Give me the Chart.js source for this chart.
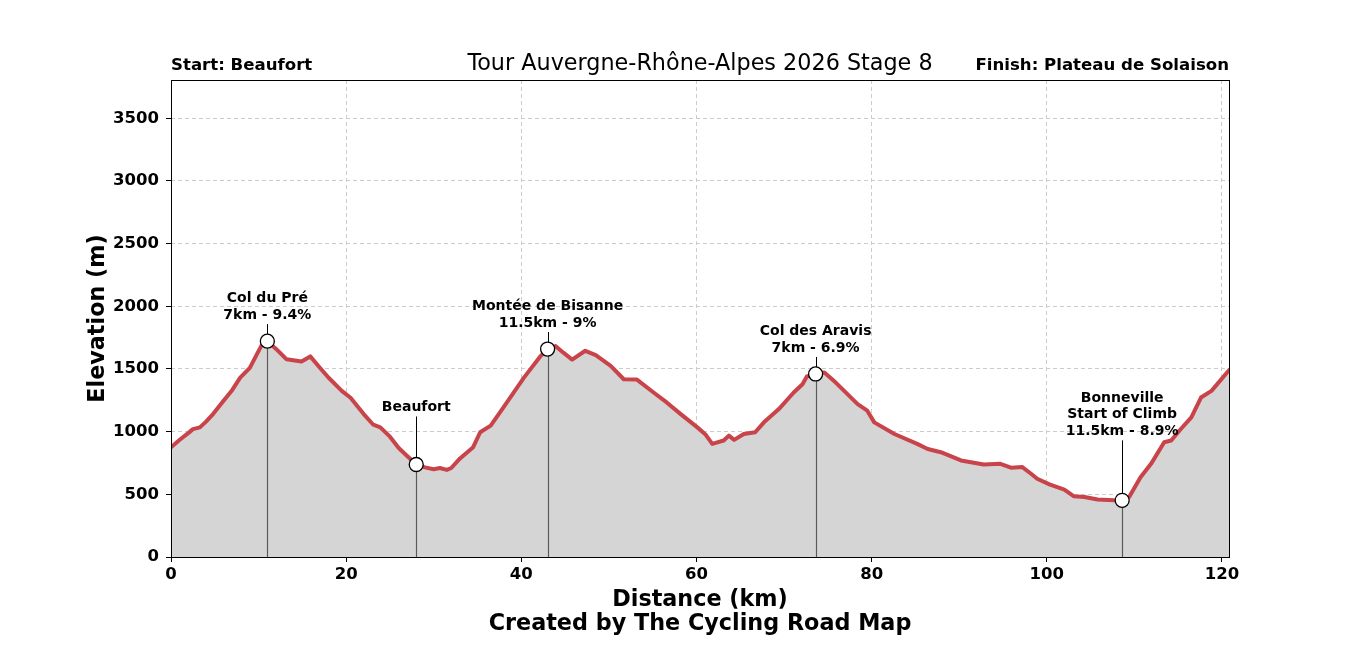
<!DOCTYPE html>
<html>
<head>
<meta charset="utf-8">
<script src="https://cdn.jsdelivr.net/npm/chart.js@4.4.1/dist/chart.umd.min.js"></script>
<style>
  html, body { margin: 0; padding: 0; background: #fff; }
  #wrap { width: 1366px; height: 655px; }
</style>
</head>
<body>
<div id="wrap"><canvas id="profile" width="1366" height="655"></canvas></div>
<script>
// profile (km, m)
const distKm = [0, 1, 2, 2.5, 3.3, 4, 4.8, 6, 7, 7.9, 9, 9.8, 10.4, 11, 12, 13.2, 14.9, 15.9, 17, 18,
  19.5, 20.5, 22, 23.1, 23.9, 25, 26, 26.9, 28, 29, 30, 30.7, 31.5, 32, 33, 34.5, 35.3, 36.5, 38, 40.3,
  42.2, 43, 43.9, 44.8, 45.8, 47.3, 48.5, 50.2, 51.7, 53.2, 55.1, 56.6, 58.2, 60.1, 61, 61.8, 63.1, 63.7, 64.3, 65.4,
  66.7, 67.7, 69.4, 71.1, 72.1, 72.6, 73.6, 74.6, 75.9, 78.4, 79.5, 80.3, 82.6, 85.2, 86.4, 87.9, 90.2, 92.8, 94.7, 95.9,
  97.2, 98.2, 98.9, 100.3, 102, 103.1, 104.3, 105.8, 107.7, 108.6, 109.4, 110.7, 111.9, 113.4, 114.2, 115.3, 116.5, 117.6, 118.8, 120.8];
const elevM = [875, 935, 990, 1020, 1034, 1080, 1140, 1246, 1333, 1431, 1508, 1617, 1696, 1722, 1660, 1577, 1560, 1600, 1510, 1430,
  1325, 1270, 1140, 1055, 1034, 960, 870, 810, 738, 715, 700, 710, 695, 710, 786, 876, 995, 1048, 1198, 1431,
  1603, 1659, 1683, 1630, 1575, 1645, 1610, 1524, 1418, 1415, 1312, 1233, 1140, 1034, 980, 902, 929, 968, 934, 981,
  995, 1074, 1180, 1312, 1378, 1440, 1460, 1471, 1391, 1220, 1167, 1074, 981, 902, 862, 836, 770, 738, 743, 712,
  717, 664, 624, 579, 537, 484, 479, 458, 452, 452, 479, 637, 743, 915, 929, 1021, 1114, 1272, 1325, 1490];

// marked points
const poiKm = [11, 28, 43, 73.6, 108.6];
const poiElev = [1722, 738, 1659, 1460, 452];
const poiLabels = [
  ['Col du Pré', '7km - 9.4%'],
  ['Beaufort'],
  ['Montée de Bisanne', '11.5km - 9%'],
  ['Col des Aravis', '7km - 6.9%'],
  ['Bonneville', 'Start of Climb', '11.5km - 8.9%']
];
const poiLift = [26, 57, 26, 26, 69]; // px between marker and last label line

const xTicks = [0, 20, 40, 60, 80, 100, 120];
const yTicks = [0, 500, 1000, 1500, 2000, 2500, 3000, 3500];

const FONT = "'DejaVu Sans', 'Liberation Sans', sans-serif";

const decor = {
  id: 'decor',
  beforeDatasetDraw(chart, args) {
    if (args.index !== 1) return;
    const {ctx, scales: {x, y}} = chart;
    ctx.save();
    ctx.strokeStyle = '#5a5a5a';
    ctx.lineWidth = 1.2;
    poiKm.forEach((k, i) => {
      const px = Math.round(x.getPixelForValue(k)) + 0.5;
      ctx.beginPath();
      ctx.moveTo(px, y.getPixelForValue(poiElev[i]));
      ctx.lineTo(px, y.getPixelForValue(0));
      ctx.stroke();
    });
    ctx.restore();
  },
  afterDraw(chart) {
    const {ctx, chartArea: a, scales: {x, y}} = chart;
    ctx.save();
    // frame
    ctx.strokeStyle = '#000';
    ctx.lineWidth = 1;
    ctx.strokeRect(Math.round(a.left) + 0.5, Math.round(a.top) + 0.5, Math.round(a.right - a.left), Math.round(a.bottom - a.top));

    // labels of the marked points
    ctx.fillStyle = '#000';
    ctx.font = 'bold 14px ' + FONT;
    ctx.textAlign = 'center';
    ctx.textBaseline = 'middle';
    poiKm.forEach((k, i) => {
      const px = x.getPixelForValue(k);
      const py = y.getPixelForValue(poiElev[i]);
      const lines = poiLabels[i];
      const last = py - poiLift[i];
      lines.forEach((t, j) => {
        ctx.fillText(t, px, last - (lines.length - 1 - j) * 16.5);
      });
      const lx = Math.round(px) + 0.5;
      ctx.beginPath();
      ctx.moveTo(lx, py - 7);
      ctx.lineTo(lx, last + 9);
      ctx.stroke();
    });

    // titles
    ctx.textBaseline = 'alphabetic';
    ctx.font = 'bold 16.6px ' + FONT;
    ctx.textAlign = 'left';
    ctx.fillText('Start: Beaufort', a.left, 70);
    ctx.textAlign = 'right';
    ctx.fillText('Finish: Plateau de Solaison', a.right, 70);
    ctx.textAlign = 'center';
    ctx.font = '22.3px ' + FONT;
    ctx.fillText('Tour Auvergne-Rhône-Alpes 2026 Stage 8', (a.left + a.right) / 2, 70);

    ctx.font = 'bold 22.3px ' + FONT;
    ctx.fillText('Distance (km)', (a.left + a.right) / 2, 606);
    ctx.fillText('Created by The Cycling Road Map', (a.left + a.right) / 2, 630);

    ctx.translate(98, (a.top + a.bottom) / 2);
    ctx.rotate(-Math.PI / 2);
    ctx.textBaseline = 'middle';
    ctx.fillText('Elevation (m)', 0, 0);
    ctx.restore();
  }
};

const profilePoints = distKm.map((k, i) => ({x: k, y: elevM[i]}));
const poiPoints = poiKm.map((k, i) => ({x: k, y: poiElev[i]}));

const gridOpts = {
  color: '#cccccc',
  tickBorderDash: [],
  tickColor: '#000',
  tickLength: 5,
  lineWidth: 1
};

new Chart(document.getElementById('profile'), {
  type: 'line',
  data: {
    datasets: [
      {
        data: profilePoints,
        borderColor: '#c9434a',
        backgroundColor: '#d5d5d5',
        borderWidth: 4,
        borderCapStyle: 'round',
        borderJoinStyle: 'round',
        fill: 'origin',
        pointRadius: 0,
        tension: 0,
        order: 1
      },
      {
        data: poiPoints,
        showLine: false,
        pointRadius: 7,
        pointBackgroundColor: '#fff',
        pointBorderColor: '#000',
        pointBorderWidth: 1.3,
        order: 0
      }
    ]
  },
  options: {
    responsive: false,
    animation: false,
    events: [],
    layout: { padding: { left: 0, right: 137, top: 80, bottom: 0 } },
    plugins: { legend: { display: false }, tooltip: { enabled: false }, title: { display: false } },
    scales: {
      x: {
        type: 'linear',
        min: 0,
        max: 120.8,
        afterFit: s => { s.height = 98; },
        afterBuildTicks: s => { s.ticks = xTicks.map(v => ({value: v})); },
        grid: gridOpts,
        border: { display: false, dash: [4, 3] },
        ticks: {
          color: '#000', padding: 3, maxRotation: 0,
          font: { family: FONT, size: 16.5, weight: 'bold' },
          callback: v => String(v)
        }
      },
      y: {
        min: 0,
        max: 3805,
        afterFit: s => { s.width = 171; },
        afterBuildTicks: s => { s.ticks = yTicks.map(v => ({value: v})); },
        grid: gridOpts,
        border: { display: false, dash: [4, 3] },
        ticks: {
          color: '#000', padding: 7,
          font: { family: FONT, size: 16.5, weight: 'bold' },
          callback: v => String(v)
        }
      }
    }
  },
  plugins: [decor]
});
</script>
</body>
</html>
